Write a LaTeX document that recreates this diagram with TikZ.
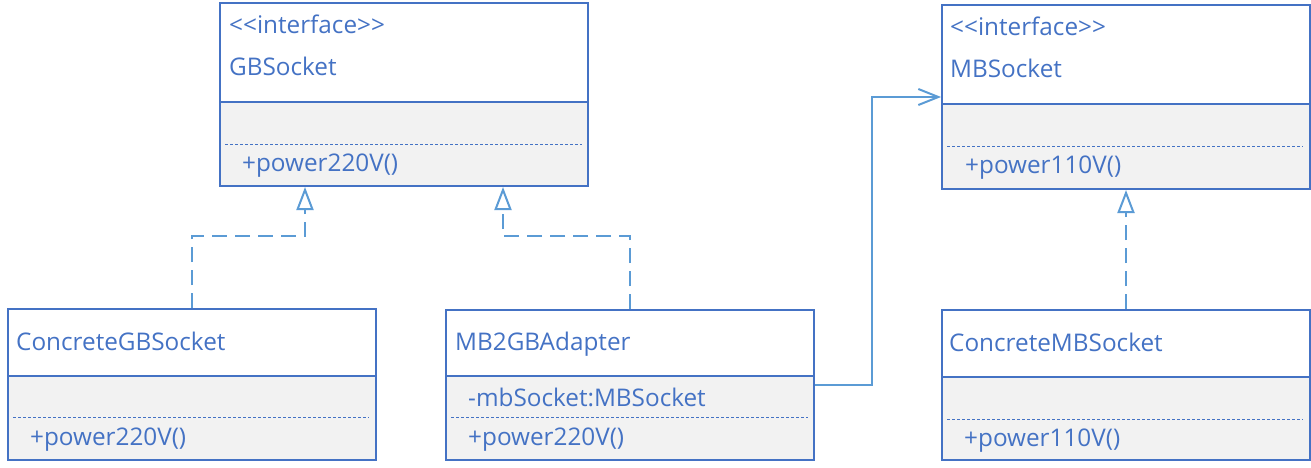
\documentclass[tikz,border=0pt]{standalone}
\usepackage{fontspec}
\setmainfont{Open Sans}
\usetikzlibrary{arrows.meta}
\definecolor{umlblue}{HTML}{4472C4}
\definecolor{linkblue}{HTML}{5B9BD5}
\definecolor{compfill}{HTML}{F2F2F2}
\tikzset{
  classbox/.style={draw=umlblue, line width=2pt, minimum width=368pt, inner sep=0pt, anchor=north west},
  txt/.style={text=umlblue, anchor=base west, inner sep=0pt, font=\fontsize{24.3}{28}\selectfont},
  sepline/.style={draw=umlblue, line width=1pt, dash pattern=on 3pt off 2pt},
  divider/.style={draw=umlblue, line width=2pt},
  realize/.style={draw=linkblue, line width=2pt, dash pattern=on 15pt off 8pt,
    -{Triangle[open, fill=white, length=23pt, width=17pt, line width=2pt]}},
  assoc/.style={draw=linkblue, line width=2pt, -{Straight Barb[length=20pt, width=16pt, line width=2pt]}}
}
\begin{document}
\begin{tikzpicture}[x=1pt,y=-1pt]
\useasboundingbox (0,0) rectangle (1311,468);
% lower compartment fills
\fill[compfill] (219,102) rectangle (587,185);
\fill[compfill] (941,104) rectangle (1309,188);
\fill[compfill] (7,376) rectangle (375,459);
\fill[compfill] (445,376) rectangle (813,459);
\fill[compfill] (941,377) rectangle (1309,459);
% class boxes
\node[classbox, minimum height=183pt] (gb) at (219,2) {};
\node[classbox, minimum height=184pt] (mb) at (941,4) {};
\node[classbox, minimum height=151pt] (cgb) at (7,308) {};
\node[classbox, minimum height=150pt] (ad) at (445,309) {};
\node[classbox, minimum height=150pt] (cmb) at (941,309) {};
% dividers
\draw[divider] (gb.west |- 0,102) -- (gb.east |- 0,102);
\draw[divider] (mb.west |- 0,104) -- (mb.east |- 0,104);
\draw[divider] (cgb.west |- 0,376) -- (cgb.east |- 0,376);
\draw[divider] (ad.west |- 0,376) -- (ad.east |- 0,376);
\draw[divider] (cmb.west |- 0,377) -- (cmb.east |- 0,377);
% dotted separators
\draw[sepline] (225,144) -- (582,144);
\draw[sepline] (947,146) -- (1303,146);
\draw[sepline] (13,417) -- (369,417);
\draw[sepline] (451,417) -- (808,417);
\draw[sepline] (947,419) -- (1303,419);
% texts
\node[txt] (gbst) at (229,34) {{<}{<}interface{>}{>}};
\node[txt] (gbn) at (229,76) {GBSocket};
\node[txt] (gbm) at (242,171) {+power220V()};
\node[txt] (mbst) at (950,36) {{<}{<}interface{>}{>}};
\node[txt] (mbn) at (950,78) {MBSocket};
\node[txt] (mbm) at (965,173) {+power110V()};
\node[txt] (cgbn) at (16,350) {ConcreteGBSocket};
\node[txt] (cgbm) at (30,445) {+power220V()};
\node[txt] (adn) at (455,350) {MB2GBAdapter};
\node[txt] (ada) at (468,406) {-mbSocket:MBSocket};
\node[txt] (adm) at (468,445) {+power220V()};
\node[txt] (cmbn) at (949,351) {ConcreteMBSocket};
\node[txt] (cmbm) at (964,446) {+power110V()};
% connectors
\draw[realize] (cgb.north) -- ++(0,-72) -| ([xshift=-99pt]gb.south);
\draw[realize] (ad.north) -- ++(0,-73) -| ([xshift=99pt]gb.south);
\draw[realize] (cmb.north) -- (cmb.north |- mb.south);
\draw[assoc] (ad.east) -- ++(57,0) |- (mb.west);
\end{tikzpicture}
\end{document}
